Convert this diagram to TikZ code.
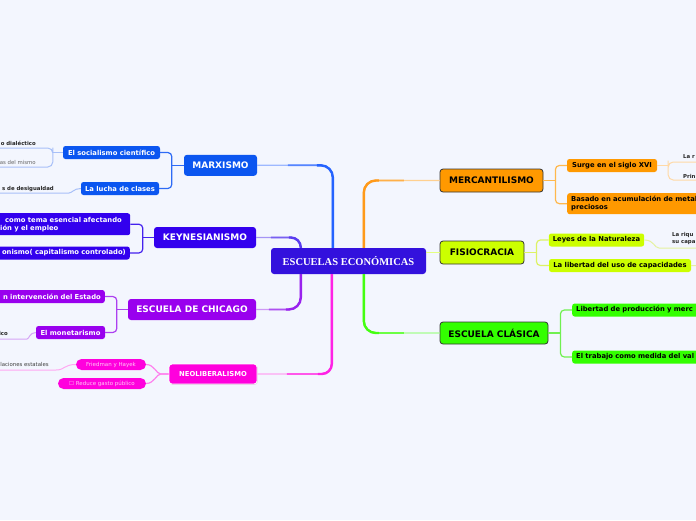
\documentclass[tikz,border=0pt]{standalone}
\usepackage{fontspec}
\usetikzlibrary{shadows}
\setmainfont{DejaVu Sans}
\newfontfamily\serifb{Liberation Serif}
\definecolor{bg}{HTML}{F3F6FE}
\definecolor{cen}{HTML}{3311DD}
\definecolor{marxc}{HTML}{0B56F0}
\definecolor{keync}{HTML}{3300EE}
\definecolor{chicc}{HTML}{9900EE}
\definecolor{neoc}{HTML}{FF00DD}
\definecolor{mercc}{HTML}{FF9900}
\definecolor{fisioc}{HTML}{CCFF00}
\definecolor{clasc}{HTML}{33FF00}
\definecolor{marxl}{HTML}{9DB8FF}
\definecolor{marxs}{HTML}{2563FF}
\definecolor{marxb}{HTML}{2E6BF5}
\definecolor{marxg}{HTML}{A8C0F8}
\definecolor{keynl}{HTML}{A595F5}
\definecolor{keyns}{HTML}{5A3CF0}
\definecolor{keynb}{HTML}{4422EE}
\definecolor{chicl}{HTML}{CE98F6}
\definecolor{chics}{HTML}{9922EE}
\definecolor{chicb}{HTML}{AD40F0}
\definecolor{chicg}{HTML}{D6A6F6}
\definecolor{neol}{HTML}{FFA6F2}
\definecolor{neos}{HTML}{FF22E5}
\definecolor{neob}{HTML}{FF80EE}
\definecolor{neog}{HTML}{FFA8F2}
\definecolor{mercl}{HTML}{FFD090}
\definecolor{mercs}{HTML}{FF9A1A}
\definecolor{mercb}{HTML}{FFB84D}
\definecolor{mercg}{HTML}{FFD9A6}
\definecolor{fisiol}{HTML}{E4FF80}
\definecolor{fisiob}{HTML}{DDF266}
\definecolor{fisiog}{HTML}{E5F2A0}
\definecolor{clasl}{HTML}{A5FF90}
\definecolor{classs}{HTML}{44FF11}
\definecolor{clasb}{HTML}{70F050}
\definecolor{pilltext}{HTML}{FFC8F5}
\tikzset{
  cat/.style={rounded corners=3pt, inner sep=0pt, font=\bfseries\fontsize{9}{10.5}\selectfont, minimum height=21pt},
  catr/.style={cat, draw=black!80, line width=0.8pt, text=black},
  kid/.style={rounded corners=2.5pt, inner sep=0pt, inner xsep=4pt, font=\bfseries\fontsize{6.8}{8}\selectfont, minimum height=13pt},
  pill/.style={rounded corners=5.5pt, inner sep=0pt, font=\fontsize{5.5}{6.5}\selectfont, minimum height=11pt, fill=neoc, text=pilltext},
  gk/.style={font=\bfseries\fontsize{5.4}{6.5}\selectfont, inner sep=0pt, text=black!85},
  gkn/.style={font=\fontsize{5.4}{6.5}\selectfont, inner sep=0pt, text=black!60},
  mainline/.style={line width=1.3pt, rounded corners=12pt},
  mainmid/.style={line width=1.8pt, rounded corners=12pt},
  mainstrong/.style={line width=2.4pt, rounded corners=12pt},
  brk/.style={line width=1.2pt, rounded corners=4pt},
  gline/.style={line width=1pt, rounded corners=3pt},
}
\begin{document}
\begin{tikzpicture}[x=1pt,y=-1pt]
\useasboundingbox (0,0) rectangle (696,520);
\clip (0,0) rectangle (696,520);
\fill[bg] (0,0) rectangle (696,520);

% central node
\node[rounded corners=3pt, fill=cen, text=white, minimum width=155pt, minimum height=26pt, inner sep=0pt, font=\serifb\bfseries\fontsize{10.5}{12}\selectfont] (center) at (348.5,261) {ESCUELAS ECONÓMICAS};

% left categories
\node[cat, fill=marxc, text=white, minimum width=73pt] (marx) at (220.5,165.3) {MARXISMO};
\node[cat, fill=keync, text=white, minimum width=102pt] (keyn) at (205,237.5) {KEYNESIANISMO};
\node[cat, fill=chicc, text=white, minimum width=128pt] (chic) at (192,309.5) {ESCUELA DE CHICAGO};
\node[cat, fill=neoc, text=white, minimum width=88pt, minimum height=20pt, draw=white, line width=0.8pt, font=\bfseries\fontsize{6.8}{8}\selectfont, drop shadow={opacity=0.25, shadow xshift=0.6pt, shadow yshift=-0.8pt}] (neo) at (213,374) {NEOLIBERALISMO};

% right categories
\node[catr, fill=mercc, minimum width=103pt, minimum height=23pt] (merc) at (491.5,180.5) {MERCANTILISMO};
\node[catr, fill=fisioc, minimum width=84pt, minimum height=23pt] (fisio) at (482,252.5) {FISIOCRACIA};
\node[catr, fill=clasc, minimum width=108pt, minimum height=22pt] (clas) at (494,333) {ESCUELA CLÁSICA};

% main connectors (thin light part, then thicker stronger parts near the centre)
\coordinate (cm) at ([xshift=62pt]center.north west);
\coordinate (ck) at ([xshift=30pt]center.north west);
\coordinate (cc) at ([xshift=30pt]center.south west);
\coordinate (cn) at ([xshift=61pt]center.south west);
\coordinate (cr) at ([xshift=93pt]center.north west);
\coordinate (cs) at ([xshift=93pt]center.south west);
\draw[mainline, marxl] (marx.east) -| (cm);
\draw[mainmid, marxs!60!marxl] (cm) |- ([xshift=-45pt]cm |- marx.east);
\draw[mainstrong, marxs] (cm) |- ([xshift=-16pt]cm |- marx.east);
\draw[mainline, keynl, rounded corners=10pt] (keyn.east) -| (ck);
\draw[mainmid, keyns!60!keynl, rounded corners=10pt] (ck) |- ([xshift=-30pt]ck |- keyn.east);
\draw[mainstrong, keyns, rounded corners=10pt] (ck) |- ([xshift=-12pt]ck |- keyn.east);
\draw[mainline, chicl] (chic.east) -| (cc);
\draw[mainmid, chics!60!chicl] (cc) |- ([xshift=-32pt]cc |- chic.east);
\draw[mainstrong, chics] (cc) |- ([xshift=-15pt]cc |- chic.east);
\draw[mainline, neol, rounded corners=10pt] (neo.east) -| (cn);
\draw[mainmid, neos!60!neol, rounded corners=10pt] (cn) |- ([xshift=-45pt]cn |- neo.east);
\draw[mainstrong, neos, rounded corners=10pt] (cn) |- ([xshift=-14pt]cn |- neo.east);
\draw[mainline, mercl] (merc.west) -| (cr);
\draw[mainmid, mercs!60!mercl] (cr) |- ([xshift=40pt]cr |- merc.west);
\draw[mainstrong, mercs] (cr) |- ([xshift=15pt]cr |- merc.west);
\draw[mainmid, fisiol] (fisio.west) -- (fisio.west -| center.east);
\draw[mainline, clasl] (clas.west) -| (cs);
\draw[mainmid, classs!60!clasl] (cs) |- ([xshift=40pt]cs |- clas.west);
\draw[mainstrong, classs] (cs) |- ([xshift=15pt]cs |- clas.west);

% MARXISMO children
\node[kid, fill=marxc, text=white, minimum width=97pt] (soc) at (111.5,152.5) {El socialismo científico};
\node[kid, fill=marxc, text=white, minimum width=78pt] (lucha) at (120,188.5) {La lucha de clases};
\coordinate (mj) at ([xshift=-12pt]marx.west);
\draw[brk, marxb] (marx.west) -- (mj);
\draw[brk, marxb] (soc.east) -| (mj) |- (lucha.east);

\node[gk, anchor=south east] (g1) at (36,146) {o dialéctico};
\node[gkn, anchor=south east] (g2) at (36,165) {as del mismo};
\coordinate (sj) at ([xshift=-10pt]soc.west);
\coordinate (g1e) at (-5,148);
\coordinate (g2e) at (-5,167);
\draw[gline, marxg] (soc.west) -- (sj);
\draw[gline, marxg, rounded corners=5pt] (g1e) -| (sj) |- (g2e);

\node[gk, anchor=south east] (g3) at (54,191.5) {s de desigualdad};
\coordinate (g3e) at (-5,193);
\draw[gline, marxg] (lucha.west) .. controls +(-7,0) and +(6,0) .. (66,193) -- (g3e);

% KEYNESIANISMO children
\node[kid, fill=keync, text=white, anchor=north west, text width=126pt, align=left, minimum height=22pt, inner ysep=0pt] (k1) at (-4,213) {\hspace*{5pt}como tema esencial afectando\\ión y el empleo};
\node[kid, fill=keync, text=white, anchor=east, text width=140pt, align=right] (k2) at (130,253) {onismo( capitalismo controlado)};
\coordinate (kj) at ([xshift=-11pt]keyn.west);
\draw[brk, keynb] (keyn.west) -- (kj);
\draw[brk, keynb] (k1.east) -| (kj) |- (k2.east);

% CHICAGO children
\node[kid, fill=chicc, text=white, anchor=east, text width=120pt, align=right] (c1) at (105,296.5) {n intervención del Estado};
\node[kid, fill=chicc, text=white, minimum width=69pt] (mon) at (70.5,332.5) {El monetarismo};
\coordinate (chj) at ([xshift=-11pt]chic.west);
\draw[brk, chicb] (chic.west) -- (chj);
\draw[brk, chicb] (c1.east) -| (chj) |- (mon.east);
\node[gk, anchor=south east] (g4) at (8,335.5) {ico};
\coordinate (g4e) at (-5,339);
\draw[gline, chicg] (mon.west) .. controls +(-6,0) and +(5,0) .. (24,339) -- (g4e);

% NEOLIBERALISMO children
\node[pill, minimum width=70pt] (fried) at (111,364.5) {Friedman y Hayek};
\node[pill, minimum width=88pt] (red) at (102,383.5) {☐ Reduce gasto público};
\draw[brk, neob] (neo.west) -- ++(-4,0) .. controls +(-8,0) and +(8,0) .. (fried.east);
\draw[brk, neob] (neo.west) -- ++(-4,0) .. controls +(-8,0) and +(8,0) .. (red.east);
\node[gkn, anchor=south east, text=black!75] (g5) at (49,366.5) {laciones estatales};
\coordinate (g5e) at (-5,370);
\draw[gline, neog] (fried.west) .. controls +(-12,0) and +(12,0) .. (53,370) -- (g5e);

% MERCANTILISMO children
\node[kid, fill=mercc, text=black, minimum width=90pt] (surge) at (612,165.5) {Surge en el siglo XVI};
\node[kid, fill=mercc, text=black, anchor=north west, text width=140pt, align=left, minimum height=21pt, inner ysep=0pt] (bas) at (567,193) {Basado en acumulación de metales\\preciosos};
\coordinate (mrj) at ([xshift=12pt]merc.east);
\draw[brk, mercb] (merc.east) -- (mrj);
\draw[brk, mercb] (surge.west) -| (mrj) |- (bas.west);
\node[gk, anchor=south west] (g6) at (683,159) {La r};
\node[gk, anchor=south west] (g7) at (683,178.5) {Prin};
\coordinate (suj) at ([xshift=11pt]surge.east);
\coordinate (g6e) at (702,162);
\coordinate (g7e) at (702,180);
\draw[gline, mercg] (surge.east) -- (suj);
\draw[gline, mercg, rounded corners=5pt] (g6e) -| (suj) |- (g7e);

% FISIOCRACIA children
\node[kid, fill=fisioc, text=black, minimum width=95pt] (ley) at (596.5,240) {Leyes de la Naturaleza};
\node[kid, fill=fisioc, text=black, minimum width=142pt] (lib) at (620,265.5) {La libertad del uso de capacidades};
\coordinate (fj) at ([xshift=12pt]fisio.east);
\draw[brk, fisiob] (fisio.east) -- (fj);
\draw[brk, fisiob] (ley.west) -| (fj) |- (lib.west);
\node[gk, anchor=north west, align=left, font=\bfseries\fontsize{5.4}{7}\selectfont] (g8) at (672,232) {La riqu\\su capa};
\coordinate (g8e) at (702,248);
\draw[gline, fisiog] (ley.east) .. controls +(10,0) and +(-8,0) .. (662,248) -- (g8e);
\coordinate (libe) at (702,266);
\draw[gline, fisiog] (lib.east) -- (libe);

% ESCUELA CLASICA children
\node[kid, fill=clasc, text=black, anchor=west, text width=140pt, align=left] (lp) at (572,310) {Libertad de producción y merc};
\node[kid, fill=clasc, text=black, anchor=west, text width=140pt, align=left] (tr) at (572,357) {El trabajo como medida del val};
\coordinate (clj) at ([xshift=12pt]clas.east);
\draw[brk, clasb] (clas.east) -- (clj);
\draw[brk, clasb] (lp.west) -| (clj) |- (tr.west);
\end{tikzpicture}
\end{document}
